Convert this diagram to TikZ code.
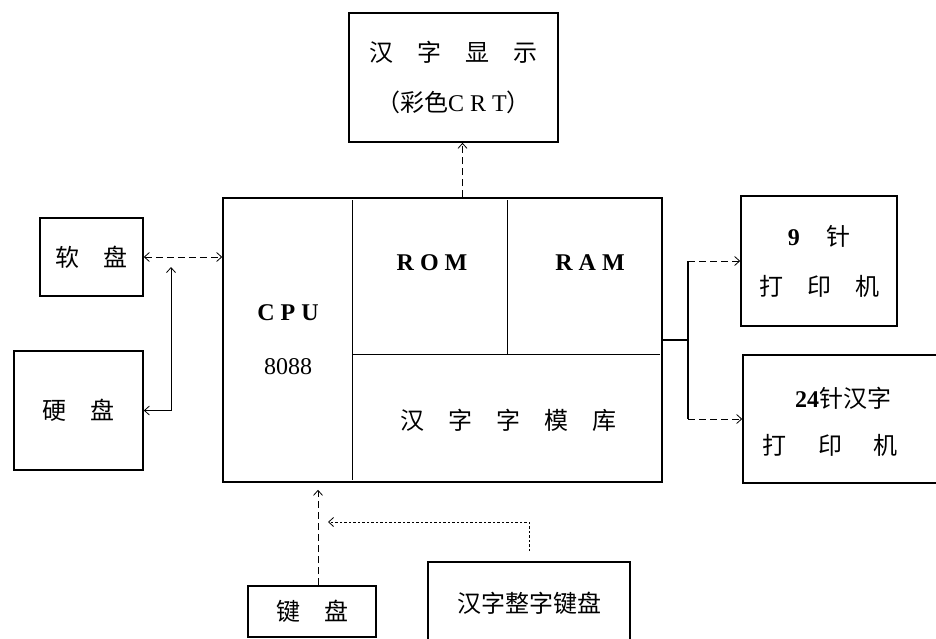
\documentclass[tikz,border=0pt]{standalone}
\usepackage{fontspec}
\setmainfont{Liberation Serif}
\newfontfamily\cjk{Noto Sans CJK SC}
\usepackage{tikz}
\usetikzlibrary{arrows,arrows.meta}

\begin{document}
\begin{tikzpicture}[x=1pt, y=-1pt, >={Straight Barb[length=5pt,width=9pt]}, semithick]
\tikzstyle{box}=[draw=black, line width=1.6pt, rectangle, align=center, inner sep=0pt,
                 font=\fontsize{24}{50}\selectfont]
\tikzstyle{lbl}=[align=center, inner sep=0pt, font=\fontsize{24}{50}\selectfont]
\tikzstyle{link}=[line width=0.8pt]
\tikzstyle{dashlink}=[link, dash pattern=on 7pt off 4pt]
\tikzstyle{dotlink}=[link, dash pattern=on 2.5pt off 2pt]
\useasboundingbox (0,0) rectangle (936,639);

\node[box, minimum width=209, minimum height=129] (disp) at (453.5,77.5)
     {{\cjk 汉　字　显　示}\\{\cjk （彩色}C R T{\cjk ）}};
\node[box, minimum width=439, minimum height=284] (main) at (442.5,340) {};
\node[box, minimum width=103, minimum height=78]  (fd)   at (91.5,257)  {\cjk 软　盘};
\node[box, minimum width=129, minimum height=119] (hd)   at (78.5,410.5) {\cjk 硬　盘};
\node[box, minimum width=128, minimum height=51]  (kb)   at (312,611.5) {\cjk 键　盘};
\node[box, minimum width=202, minimum height=82]  (hk)   at (529,603)   {\cjk 汉字整字键盘};
\node[box, minimum width=156, minimum height=130] (p9)   at (819,261)
     {{\bfseries 9}\hspace{1.1em}{\cjk 针}\\{\cjk 打　印　机}};
\node[box, minimum width=204, minimum height=128] (p24)  at (845,419)
     {}; 
\node[lbl] (p24a) at (843,398) {{\bfseries 24}{\cjk 针汉字}};
\node[lbl] (p24b) at (830,445) {\cjk 打\hspace{1.3em}印\hspace{1.3em}机};

% inside the main box
\node[lbl] (cpu)  at (288,313) {\bfseries C P U};
\node[lbl] (cpun) at (288,367) {8088};
\node[lbl] (rom)  at (432,263) {\bfseries R O M};
\node[lbl] (ram)  at (590,263) {\bfseries R A M};
\node[lbl] (zimo) at (508,420) {\cjk 汉　字　字　模　库};
\draw[link] (352,200) -- (352,480);
\draw[link] (507,200) -- (507,354);
\draw[link] (352,354) -- (660,354);

% connectors
\coordinate (jn)  at (171,267);
\coordinate (kin) at (328,522);
\coordinate (bus) at (688,340);

\draw[dashlink, <->] (fd.east) -- (main.west |- fd.east);
\draw[link, <->] (hd.east) -| (jn);
\draw[dashlink, ->] ([xshift=9pt]disp.south |- main.north) -- ([xshift=9pt]disp.south);
\draw[dashlink, ->] ([xshift=6pt]kb.north) -- ([xshift=6pt,yshift=-7pt]kb.north |- main.south);
\draw[dotlink, ->] ([yshift=10pt]hk.north) |- (kin);
\draw[line width=1.6pt] (main.east |- bus) -- (bus);
\draw[line width=1.6pt] (bus |- p9.west) -- (bus |- p24.west);
\draw[dashlink, ->] (bus |- p9.west) -- (p9.west);
\draw[dashlink, ->] (bus |- p24.west) -- (p24.west);
\end{tikzpicture}
\end{document}
